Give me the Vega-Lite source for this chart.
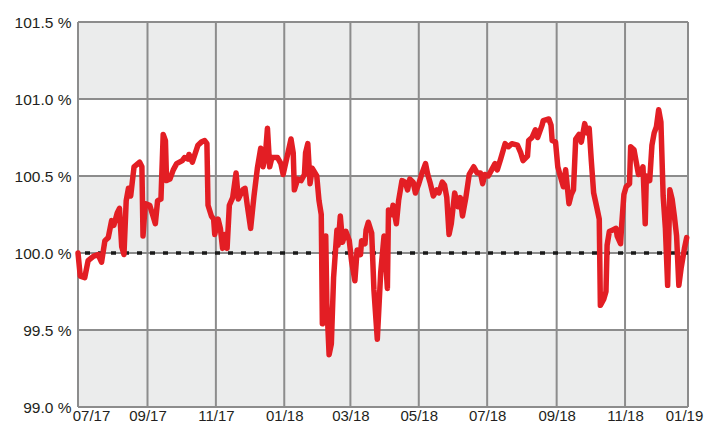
{
  "$schema": "https://vega.github.io/schema/vega-lite/v6.json",
  "width": 610,
  "height": 385,
  "autosize": {"type": "none"},
  "padding": {"left": 78, "top": 22, "right": 27, "bottom": 16},
  "background": "white",
  "config": {
    "view": {"stroke": null},
    "axis": {"labelFont": "Liberation Sans", "labelColor": "#231f20", "grid": false, "domain": false, "ticks": false, "title": null}
  },
  "datasets": {
    "bands": [{"lo": 99.0, "hi": 99.5}, {"lo": 100.0, "hi": 100.5}, {"lo": 101.0, "hi": 101.5}],
    "vgrid": [
      {"date": "2017-07-01"}, {"date": "2017-09-01"}, {"date": "2017-11-01"}, {"date": "2018-01-01"},
      {"date": "2018-03-01"}, {"date": "2018-05-01"}, {"date": "2018-07-01"}, {"date": "2018-09-01"},
      {"date": "2018-11-01"}, {"date": "2018-12-27T04:00:00Z"}
    ],
    "hgrid": [{"level": 99.0}, {"level": 99.5}, {"level": 100.0}, {"level": 100.5}, {"level": 101.0}, {"level": 101.5}],
    "ref": [{"level": 100.0}],
    "series": [
      {"date": "2017-07-01", "value": 100.00},
      {"date": "2017-07-03", "value": 99.85},
      {"date": "2017-07-07", "value": 99.84},
      {"date": "2017-07-10", "value": 99.95},
      {"date": "2017-07-15", "value": 99.98},
      {"date": "2017-07-19", "value": 99.99},
      {"date": "2017-07-22", "value": 99.94},
      {"date": "2017-07-25", "value": 100.08},
      {"date": "2017-07-28", "value": 100.10},
      {"date": "2017-07-31", "value": 100.21},
      {"date": "2017-08-02", "value": 100.18},
      {"date": "2017-08-05", "value": 100.26},
      {"date": "2017-08-07", "value": 100.29},
      {"date": "2017-08-09", "value": 100.04},
      {"date": "2017-08-11", "value": 99.99},
      {"date": "2017-08-13", "value": 100.34},
      {"date": "2017-08-15", "value": 100.42},
      {"date": "2017-08-17", "value": 100.37},
      {"date": "2017-08-20", "value": 100.56},
      {"date": "2017-08-25", "value": 100.59},
      {"date": "2017-08-27", "value": 100.56},
      {"date": "2017-08-28", "value": 100.11},
      {"date": "2017-08-30", "value": 100.32},
      {"date": "2017-09-03", "value": 100.31},
      {"date": "2017-09-08", "value": 100.19},
      {"date": "2017-09-10", "value": 100.34},
      {"date": "2017-09-13", "value": 100.35},
      {"date": "2017-09-15", "value": 100.77},
      {"date": "2017-09-17", "value": 100.73},
      {"date": "2017-09-18", "value": 100.47},
      {"date": "2017-09-21", "value": 100.48},
      {"date": "2017-09-24", "value": 100.54},
      {"date": "2017-09-27", "value": 100.58},
      {"date": "2017-10-02", "value": 100.60},
      {"date": "2017-10-04", "value": 100.62},
      {"date": "2017-10-07", "value": 100.61},
      {"date": "2017-10-08", "value": 100.64},
      {"date": "2017-10-11", "value": 100.59},
      {"date": "2017-10-16", "value": 100.70},
      {"date": "2017-10-19", "value": 100.72},
      {"date": "2017-10-22", "value": 100.73},
      {"date": "2017-10-24", "value": 100.71},
      {"date": "2017-10-25", "value": 100.31},
      {"date": "2017-10-28", "value": 100.24},
      {"date": "2017-10-30", "value": 100.22},
      {"date": "2017-10-31", "value": 100.12},
      {"date": "2017-11-03", "value": 100.22},
      {"date": "2017-11-05", "value": 100.16},
      {"date": "2017-11-07", "value": 100.03},
      {"date": "2017-11-09", "value": 100.12},
      {"date": "2017-11-11", "value": 100.03},
      {"date": "2017-11-13", "value": 100.31},
      {"date": "2017-11-16", "value": 100.36},
      {"date": "2017-11-19", "value": 100.52},
      {"date": "2017-11-21", "value": 100.35},
      {"date": "2017-11-25", "value": 100.41},
      {"date": "2017-11-27", "value": 100.42},
      {"date": "2017-11-29", "value": 100.31},
      {"date": "2017-12-02", "value": 100.16},
      {"date": "2017-12-05", "value": 100.37},
      {"date": "2017-12-08", "value": 100.55},
      {"date": "2017-12-11", "value": 100.68},
      {"date": "2017-12-13", "value": 100.56},
      {"date": "2017-12-15", "value": 100.62},
      {"date": "2017-12-17", "value": 100.81},
      {"date": "2017-12-19", "value": 100.56},
      {"date": "2017-12-21", "value": 100.62},
      {"date": "2017-12-26", "value": 100.62},
      {"date": "2017-12-29", "value": 100.58},
      {"date": "2017-12-31", "value": 100.51},
      {"date": "2018-01-04", "value": 100.64},
      {"date": "2018-01-07", "value": 100.74},
      {"date": "2018-01-09", "value": 100.65},
      {"date": "2018-01-10", "value": 100.41},
      {"date": "2018-01-13", "value": 100.48},
      {"date": "2018-01-16", "value": 100.47},
      {"date": "2018-01-19", "value": 100.51},
      {"date": "2018-01-20", "value": 100.65},
      {"date": "2018-01-22", "value": 100.71},
      {"date": "2018-01-24", "value": 100.45},
      {"date": "2018-01-26", "value": 100.55},
      {"date": "2018-01-30", "value": 100.50},
      {"date": "2018-02-01", "value": 100.34},
      {"date": "2018-02-03", "value": 100.25},
      {"date": "2018-02-04", "value": 99.54},
      {"date": "2018-02-07", "value": 100.11},
      {"date": "2018-02-08", "value": 99.67},
      {"date": "2018-02-10", "value": 99.34},
      {"date": "2018-02-12", "value": 99.41},
      {"date": "2018-02-14", "value": 99.84},
      {"date": "2018-02-17", "value": 100.15},
      {"date": "2018-02-18", "value": 100.05},
      {"date": "2018-02-20", "value": 100.24},
      {"date": "2018-02-22", "value": 100.07},
      {"date": "2018-02-25", "value": 100.14},
      {"date": "2018-02-28", "value": 100.08},
      {"date": "2018-03-02", "value": 99.95},
      {"date": "2018-03-05", "value": 99.82},
      {"date": "2018-03-07", "value": 100.02},
      {"date": "2018-03-10", "value": 99.99},
      {"date": "2018-03-11", "value": 100.08},
      {"date": "2018-03-14", "value": 100.06},
      {"date": "2018-03-15", "value": 100.15},
      {"date": "2018-03-17", "value": 100.20},
      {"date": "2018-03-20", "value": 100.13},
      {"date": "2018-03-22", "value": 99.76},
      {"date": "2018-03-25", "value": 99.44},
      {"date": "2018-03-28", "value": 99.87},
      {"date": "2018-03-31", "value": 100.11},
      {"date": "2018-04-03", "value": 99.77},
      {"date": "2018-04-04", "value": 100.28},
      {"date": "2018-04-07", "value": 100.25},
      {"date": "2018-04-08", "value": 100.31},
      {"date": "2018-04-11", "value": 100.19},
      {"date": "2018-04-13", "value": 100.34},
      {"date": "2018-04-16", "value": 100.47},
      {"date": "2018-04-19", "value": 100.46},
      {"date": "2018-04-21", "value": 100.41},
      {"date": "2018-04-23", "value": 100.48},
      {"date": "2018-04-26", "value": 100.46},
      {"date": "2018-04-28", "value": 100.39},
      {"date": "2018-05-01", "value": 100.45},
      {"date": "2018-05-04", "value": 100.52},
      {"date": "2018-05-07", "value": 100.58},
      {"date": "2018-05-09", "value": 100.51},
      {"date": "2018-05-11", "value": 100.46},
      {"date": "2018-05-14", "value": 100.37},
      {"date": "2018-05-17", "value": 100.41},
      {"date": "2018-05-19", "value": 100.39},
      {"date": "2018-05-22", "value": 100.46},
      {"date": "2018-05-24", "value": 100.44},
      {"date": "2018-05-26", "value": 100.36},
      {"date": "2018-05-28", "value": 100.12},
      {"date": "2018-05-30", "value": 100.19},
      {"date": "2018-06-02", "value": 100.39},
      {"date": "2018-06-05", "value": 100.30},
      {"date": "2018-06-07", "value": 100.36},
      {"date": "2018-06-09", "value": 100.24},
      {"date": "2018-06-12", "value": 100.36},
      {"date": "2018-06-15", "value": 100.51},
      {"date": "2018-06-19", "value": 100.56},
      {"date": "2018-06-22", "value": 100.52},
      {"date": "2018-06-25", "value": 100.52},
      {"date": "2018-06-27", "value": 100.45},
      {"date": "2018-06-29", "value": 100.51},
      {"date": "2018-07-02", "value": 100.50},
      {"date": "2018-07-05", "value": 100.54},
      {"date": "2018-07-08", "value": 100.58},
      {"date": "2018-07-10", "value": 100.54},
      {"date": "2018-07-13", "value": 100.61},
      {"date": "2018-07-17", "value": 100.71},
      {"date": "2018-07-20", "value": 100.69},
      {"date": "2018-07-23", "value": 100.71},
      {"date": "2018-07-28", "value": 100.70},
      {"date": "2018-07-31", "value": 100.65},
      {"date": "2018-08-02", "value": 100.60},
      {"date": "2018-08-06", "value": 100.63},
      {"date": "2018-08-07", "value": 100.73},
      {"date": "2018-08-10", "value": 100.75},
      {"date": "2018-08-13", "value": 100.80},
      {"date": "2018-08-15", "value": 100.75},
      {"date": "2018-08-19", "value": 100.83},
      {"date": "2018-08-20", "value": 100.86},
      {"date": "2018-08-25", "value": 100.87},
      {"date": "2018-08-27", "value": 100.83},
      {"date": "2018-08-28", "value": 100.73},
      {"date": "2018-08-31", "value": 100.72},
      {"date": "2018-09-02", "value": 100.56},
      {"date": "2018-09-05", "value": 100.48},
      {"date": "2018-09-07", "value": 100.43},
      {"date": "2018-09-09", "value": 100.54},
      {"date": "2018-09-12", "value": 100.32},
      {"date": "2018-09-14", "value": 100.38},
      {"date": "2018-09-16", "value": 100.41},
      {"date": "2018-09-18", "value": 100.74},
      {"date": "2018-09-21", "value": 100.77},
      {"date": "2018-09-23", "value": 100.72},
      {"date": "2018-09-26", "value": 100.84},
      {"date": "2018-09-28", "value": 100.78},
      {"date": "2018-09-30", "value": 100.81},
      {"date": "2018-10-02", "value": 100.59},
      {"date": "2018-10-04", "value": 100.39},
      {"date": "2018-10-07", "value": 100.29},
      {"date": "2018-10-09", "value": 100.22},
      {"date": "2018-10-10", "value": 99.66},
      {"date": "2018-10-13", "value": 99.70},
      {"date": "2018-10-15", "value": 99.75},
      {"date": "2018-10-16", "value": 100.05},
      {"date": "2018-10-18", "value": 100.14},
      {"date": "2018-10-21", "value": 100.15},
      {"date": "2018-10-24", "value": 100.16},
      {"date": "2018-10-25", "value": 100.11},
      {"date": "2018-10-28", "value": 100.06},
      {"date": "2018-10-29", "value": 100.18},
      {"date": "2018-10-31", "value": 100.38},
      {"date": "2018-11-02", "value": 100.43},
      {"date": "2018-11-05", "value": 100.45},
      {"date": "2018-11-06", "value": 100.69},
      {"date": "2018-11-09", "value": 100.67},
      {"date": "2018-11-11", "value": 100.59},
      {"date": "2018-11-13", "value": 100.51},
      {"date": "2018-11-15", "value": 100.52},
      {"date": "2018-11-17", "value": 100.56},
      {"date": "2018-11-19", "value": 100.19},
      {"date": "2018-11-20", "value": 100.50},
      {"date": "2018-11-23", "value": 100.47},
      {"date": "2018-11-25", "value": 100.70},
      {"date": "2018-11-27", "value": 100.78},
      {"date": "2018-11-29", "value": 100.82},
      {"date": "2018-12-01", "value": 100.93},
      {"date": "2018-12-03", "value": 100.85},
      {"date": "2018-12-05", "value": 100.37},
      {"date": "2018-12-07", "value": 100.16},
      {"date": "2018-12-09", "value": 99.79},
      {"date": "2018-12-11", "value": 100.41},
      {"date": "2018-12-13", "value": 100.35},
      {"date": "2018-12-15", "value": 100.24},
      {"date": "2018-12-17", "value": 100.11},
      {"date": "2018-12-19", "value": 99.79},
      {"date": "2018-12-21", "value": 99.90},
      {"date": "2018-12-24", "value": 100.03},
      {"date": "2018-12-26", "value": 100.10}
    ]
  },
  "layer": [
    {
      "data": {"name": "bands"},
      "mark": {"type": "rect", "color": "#ebecec"},
      "encoding": {
        "y": {"field": "lo", "type": "quantitative", "title": null, "scale": {"domain": [99, 101.5], "nice": false, "zero": false}},
        "y2": {"field": "hi"}
      }
    },
    {
      "data": {"name": "vgrid"},
      "mark": {"type": "rule", "color": "#8c8c8c", "strokeWidth": 2},
      "encoding": {
        "x": {"field": "date", "type": "temporal", "title": null, "scale": {"type": "utc", "domain": [{"year": 2017, "month": 7, "date": 1, "utc": true}, {"year": 2018, "month": 12, "date": 27, "hours": 4, "utc": true}]}}
      }
    },
    {
      "data": {"name": "hgrid"},
      "mark": {"type": "rule", "color": "#8c8c8c", "strokeWidth": 2},
      "encoding": {
        "y": {"field": "level", "type": "quantitative", "title": null, "scale": {"domain": [99, 101.5], "nice": false, "zero": false}}
      }
    },
    {
      "data": {"name": "ref"},
      "mark": {"type": "rule", "color": "#1a1a1a", "strokeWidth": 3.5, "strokeDash": [5, 8]},
      "encoding": {
        "y": {"field": "level", "type": "quantitative", "title": null, "scale": {"domain": [99, 101.5], "nice": false, "zero": false}}
      }
    },
    {
      "data": {"name": "series"},
      "mark": {"type": "line", "color": "#e31e24", "strokeWidth": 5.5, "strokeJoin": "round", "strokeCap": "round"},
      "encoding": {
        "x": {
          "field": "date", "type": "temporal", "title": null,
          "scale": {"type": "utc", "domain": [{"year": 2017, "month": 7, "date": 1, "utc": true}, {"year": 2018, "month": 12, "date": 27, "hours": 4, "utc": true}]},
          "axis": {
            "values": [
              {"year": 2017, "month": 7, "date": 1, "utc": true},
              {"year": 2017, "month": 9, "date": 1, "utc": true},
              {"year": 2017, "month": 11, "date": 1, "utc": true},
              {"year": 2018, "month": 1, "date": 1, "utc": true},
              {"year": 2018, "month": 3, "date": 1, "utc": true},
              {"year": 2018, "month": 5, "date": 1, "utc": true},
              {"year": 2018, "month": 7, "date": 1, "utc": true},
              {"year": 2018, "month": 9, "date": 1, "utc": true},
              {"year": 2018, "month": 11, "date": 1, "utc": true},
              {"year": 2018, "month": 12, "date": 27, "hours": 4, "utc": true}
            ],
            "labelExpr": "datum.value > utc(2018,11,1) ? '01/19' : utcFormat(datum.value, '%m/%y')",
            "labelFontSize": 15,
            "labelPadding": 1,
            "labelOverlap": false,
            "labelBound": false,
            "labelFlush": false,
            "labelOffset": {"condition": [{"test": "datum.value < utc(2017,7,1)", "value": 13}, {"test": "datum.value > utc(2018,11,1)", "value": -4}], "value": 0}
          }
        },
        "y": {
          "field": "value", "type": "quantitative", "title": null,
          "scale": {"domain": [99, 101.5], "nice": false, "zero": false},
          "axis": {
            "values": [99, 99.5, 100, 100.5, 101, 101.5],
            "labelExpr": "format(datum.value, '.1f') + ' %'",
            "labelFontSize": 15.5,
            "labelPadding": 7,
            "labelOverlap": false,
            "labelBound": false
          }
        }
      }
    }
  ]
}
